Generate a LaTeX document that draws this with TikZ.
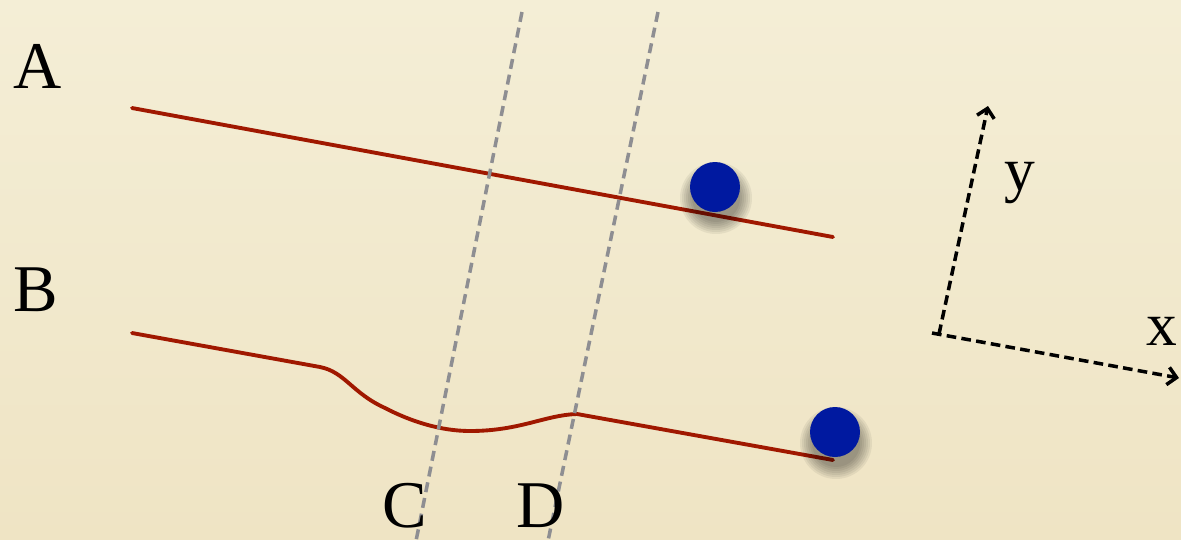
\documentclass[tikz,border=0pt]{standalone}
\usepackage{fontspec}
\setmainfont{Liberation Serif}
\usetikzlibrary{arrows.meta}
\definecolor{bgtop}{RGB}{244,238,214}
\definecolor{bgbot}{RGB}{239,228,196}
\definecolor{wire}{RGB}{160,24,0}
\definecolor{ball}{RGB}{0,25,160}
\definecolor{guide}{RGB}{142,142,146}
\tikzset{
  wirestyle/.style={draw=wire, line width=2.2pt, line cap=round},
  guidestyle/.style={draw=guide, line width=2pt, dash pattern=on 5.7pt off 3.4pt},
  axisstyle/.style={draw=black, line width=2pt, dash pattern=on 5.5pt off 3pt, -{Straight Barb[length=5pt,width=10pt,line width=2pt]}},
  ballstyle/.style={circle, fill=ball, minimum size=1cm, inner sep=0pt},
  caplabel/.style={anchor=base, inner sep=0pt, font=\fontsize{38}{40}\selectfont},
  lowlabel/.style={anchor=base, inner sep=0pt, font=\fontsize{35}{38}\selectfont},
}
\newcommand{\softshadow}[2]{%
  \foreach \r in {24,26,...,36}{\fill[black, fill opacity=0.06] (#1,#2) circle[radius=\r];}%
}
\begin{document}
\begin{tikzpicture}[x=0.02cm, y=-0.02cm]
\shade[top color=bgtop, bottom color=bgbot] (0,0) rectangle (1181,539);
\useasboundingbox (0,0) rectangle (1181,539);

% guide lines C and D
\coordinate (Ctop) at (522,12);
\coordinate (Cbot) at (416,541);
\coordinate (Dtop) at (658,12);
\coordinate (Dbot) at (548,541);

% wire A
\coordinate (A1) at (132,108);
\coordinate (A2) at (833,237);
\draw[wirestyle] (A1) -- (A2);

% wire B
\coordinate (B1) at (132,333);
\coordinate (B2) at (320,367);
\coordinate (B3) at (385,408);
\coordinate (B4) at (470,431);
\coordinate (B5) at (577,414);
\coordinate (B6) at (833,460);
\draw[wirestyle] (B1) -- (B2) .. controls (345,372) and (352,393) .. (B3)
  .. controls (410,421) and (440,431) .. (B4)
  .. controls (520,431) and (545,415) .. (B5) -- (B6);

\draw[guidestyle] (Ctop) -- (Cbot);
\draw[guidestyle] (Dtop) -- (Dbot);

% balls with soft shadow
\softshadow{716}{198}
\node[ballstyle] (ballA) at (715,187) {};
\softshadow{836}{443}
\node[ballstyle] (ballB) at (835,432) {};

% labels
\node[caplabel] (labA) at (38,88) {A};
\node[caplabel] (labB) at (36,311) {B};
\node[caplabel] (labC) at (405,527) {C};
\node[caplabel] (labD) at (541,527) {D};

% axes
\coordinate (O) at (939,334);
\coordinate (Ostart) at (932,333);
\coordinate (Yend) at (988,106);
\coordinate (Xend) at (1179,378);
\draw[axisstyle] (O) -- (Yend);
\draw[axisstyle] (Ostart) -- (Xend);
\node[lowlabel] (laby) at (1020,190) {y};
\node[lowlabel] (labx) at (1162,345) {x};
\end{tikzpicture}
\end{document}
